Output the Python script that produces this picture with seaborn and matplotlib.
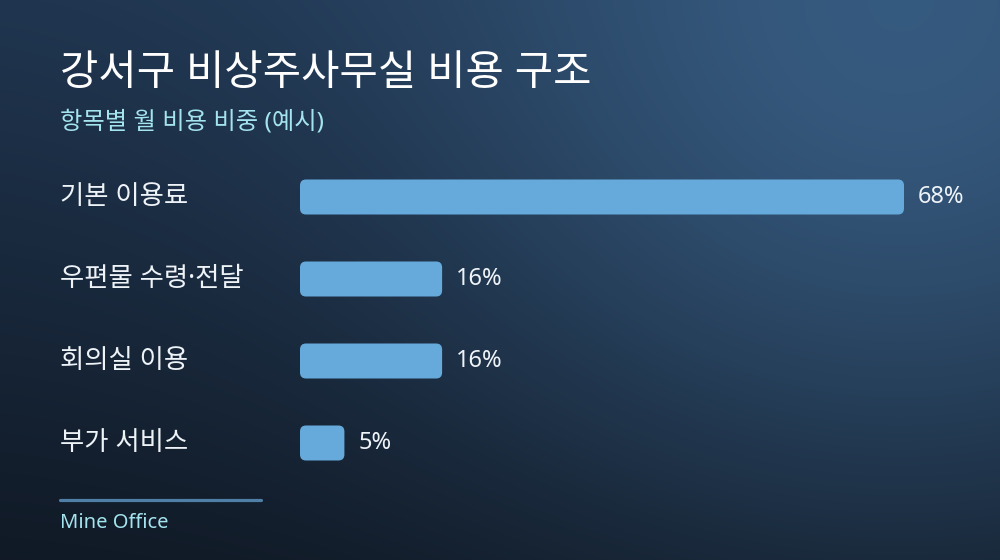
import numpy as np
import pandas as pd
import matplotlib
matplotlib.use("Agg")
import matplotlib.pyplot as plt
import matplotlib.transforms as mtransforms
from matplotlib.patches import FancyBboxPatch
from matplotlib.lines import Line2D
import seaborn as sns

sns.set_theme(style="white")
# Noto Sans first for latin, digits and the narrow middle dot; Hangul falls back to CJK
plt.rcParams['font.family'] = ['Noto Sans', 'Noto Sans CJK KR', 'DejaVu Sans']

# data
categories = ["기본 이용료", "우편물 수령·전달", "회의실 이용", "부가 서비스"]
shares = [68, 16, 16, 5]
value_labels = ["68%", "16%", "16%", "5%"]

title = "강서구 비상주사무실 비용 구조"
subtitle = "항목별 월 비용 비중 (예시)"
footer = "Mine Office"

BAR_COLOR = "#66aadc"
TEXT_COLOR = "#eef3f8"
ACCENT = "#a4e4ee"

W, H = 1000, 560
fig = plt.figure(figsize=(W / 100, H / 100), dpi=100)

# background gradient
bg = fig.add_axes([0, 0, 1, 1], zorder=0)
yy, xx = np.mgrid[0:H, 0:W]
t = yy / H
top = np.array([0x1f, 0x34, 0x4e]) / 255
bot = np.array([0x10, 0x19, 0x25]) / 255
img = top[None, None, :] * (1 - t[..., None]) + bot[None, None, :] * t[..., None]
glow = np.array([0x3a, 0x61, 0x88]) / 255
d2 = ((xx - 900) ** 2 + (yy - 20) ** 2) / (2 * 340.0 ** 2)
w = np.exp(-d2)[..., None] * 0.85
img = img * (1 - w) + glow[None, None, :] * w
bg.imshow(img, aspect="auto", extent=[0, W, H, 0])
bg.set_xlim(0, W)
bg.set_ylim(H, 0)
bg.axis("off")

# bar axes, placed in pixel terms
px_per_unit = (904 - 300) / 68
ax_left, ax_right = 300, 1000
row_h = 82
ax_top, ax_bot = 197 - row_h / 2, 443 + row_h / 2
ax = fig.add_axes([ax_left / W, 1 - ax_bot / H, (ax_right - ax_left) / W, (ax_bot - ax_top) / H], zorder=1)
ax.patch.set_alpha(0)

df = pd.DataFrame({"category": categories, "share": shares})
sns.barplot(data=df, x="share", y="category", orient="h", color=BAR_COLOR,
            width=35 / row_h, saturation=1, ax=ax)
ax.set_xlim(0, (ax_right - ax_left) / px_per_unit)
ax.set_ylim(len(categories) - 0.5, -0.5)
ax.axis("off")

# rounded bars
r_x = 6 / px_per_unit
r_y = 6 / row_h
for p in list(ax.patches):
    x0, y0 = p.get_x(), p.get_y()
    bw, bh = p.get_width(), p.get_height()
    rb = FancyBboxPatch((x0, y0), bw, bh,
                        boxstyle=f"round,pad=0,rounding_size={r_x}",
                        mutation_aspect=r_y / r_x,
                        facecolor=BAR_COLOR, edgecolor="none", zorder=2)
    p.remove()
    ax.add_patch(rb)

# value labels
for i, (v, lab) in enumerate(zip(shares, value_labels)):
    ax.text(v + 14 / px_per_unit, i, lab, va="center", ha="left",
            color=TEXT_COLOR, fontsize=17)

# category labels at x=60 px
blend = mtransforms.blended_transform_factory(fig.transFigure, ax.transData)
for i, c in enumerate(categories):
    ax.text(60 / W, i, c, transform=blend, va="center", ha="left",
            color=TEXT_COLOR, fontsize=19, clip_on=False)

# title and subtitle
fig.text(60 / W, 1 - 74 / H, title, color="white", fontsize=30,
         fontweight="medium", va="center", ha="left")
fig.text(60 / W, 1 - 123 / H, subtitle, color=ACCENT, fontsize=17.5,
         va="center", ha="left")

# footer
fig.add_artist(Line2D([60 / W, 261 / W], [1 - 500 / H, 1 - 500 / H],
                      transform=fig.transFigure, color="#4f7fa6", lw=2.3))
fig.text(60 / W, 1 - 523 / H, footer, color=ACCENT, fontsize=14.5,
         va="center", ha="left")

fig.savefig("out.png", dpi=100)
plt.close(fig)
